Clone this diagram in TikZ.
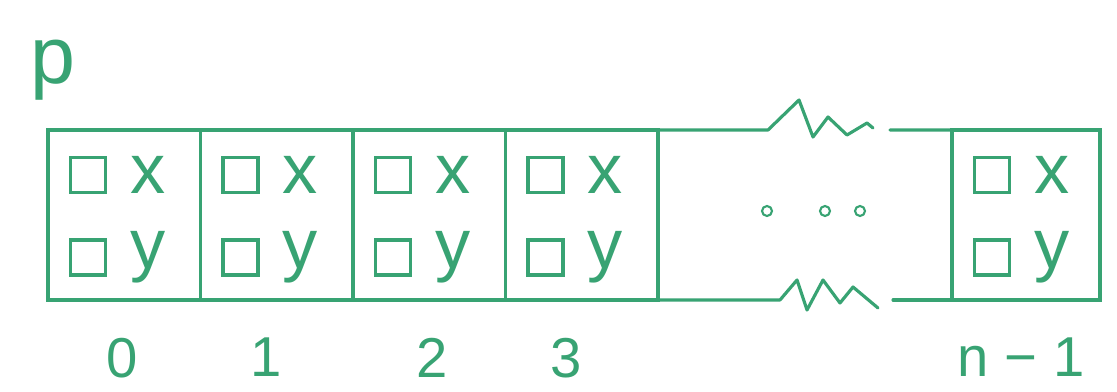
\documentclass[tikz,border=0pt]{standalone}
\usepackage{fontspec}
\setmainfont{Liberation Sans}
\usetikzlibrary{positioning}
\definecolor{pen}{RGB}{56,163,115}

\begin{document}
\begin{tikzpicture}[
    cell/.style={rectangle, draw=pen, line width=1.8pt, minimum width=3.05cm,
                 minimum height=3.4cm, outer sep=0pt, inner sep=0pt},
    slot/.style={rectangle, draw=pen, line width=1.8pt, minimum size=0.7cm, inner sep=0pt},
    field/.style={text=pen, font=\fontsize{40}{42}\selectfont, inner sep=0pt},
    idx/.style={text=pen, font=\fontsize{32}{34}\selectfont, inner sep=0pt},
    dot/.style={circle, draw=pen, line width=1.2pt, minimum size=0.2cm, inner sep=0pt},
    ink/.style={draw=pen, line width=1.8pt, line join=round, line cap=round}
]
\useasboundingbox (0,0) rectangle (22.34,7.82);

% array name
\node[text=pen, font=\fontsize{46}{46}\selectfont, inner sep=0pt, anchor=base] (pname) at (1.05,6.15) {p};

% the cells
\node[cell] (c0) at (2.485,3.52) {};
\node[cell, right=0pt of c0] (c1) {};
\node[cell, right=0pt of c1] (c2) {};
\node[cell, right=0pt of c2] (c3) {};
\node[cell, minimum width=2.96cm] (cn) at (20.52,3.52) {};

\foreach \c in {c0,c1,c2,c3,cn} {
  \node[slot] (\c-sx) at ([xshift=0.8cm, yshift=0.8cm]\c.west) {};
  \node[slot] (\c-sy) at ([xshift=0.8cm, yshift=-0.85cm]\c.west) {};
  \node[field] (\c-x) at ([xshift=2.0cm, yshift=0.8cm]\c.west) {x};
  \node[field] (\c-y) at ([xshift=2.0cm, yshift=-0.85cm]\c.west) {y};
}

% indices
\foreach \c/\i/\dx in {c0/0/-0.05, c1/1/-0.22, c2/2/0.05, c3/3/-0.32, cn/n − 1/-0.1}
  \node[idx, below=0.75cm of \c, xshift=\dx cm] (\c-idx) {\i};

% open part with the breaks
\coordinate (tgap) at (17.8,5.22);
\coordinate (bgap) at (17.86,1.82);
\draw[ink] (c3.north east) -- ++(2.2,0) -- ++(0.62,0.6) -- ++(0.28,-0.74)
  -- ++(0.3,0.4) -- ++(0.38,-0.36) -- ++(0.4,0.24) -- ++(0.12,-0.1);
\draw[ink] (c3.south east) -- ++(2.44,0) -- ++(0.34,0.4) -- ++(0.2,-0.6)
  -- ++(0.32,0.6) -- ++(0.34,-0.46) -- ++(0.26,0.32) -- ++(0.5,-0.42);
\draw[ink] (tgap) -- (cn.north west);
\draw[ink] (bgap) -- (cn.south west);

\foreach \d/\x in {d1/15.34, d2/16.5, d3/17.2}
  \node[dot] (\d) at (\x,3.6) {};
\end{tikzpicture}
\end{document}
